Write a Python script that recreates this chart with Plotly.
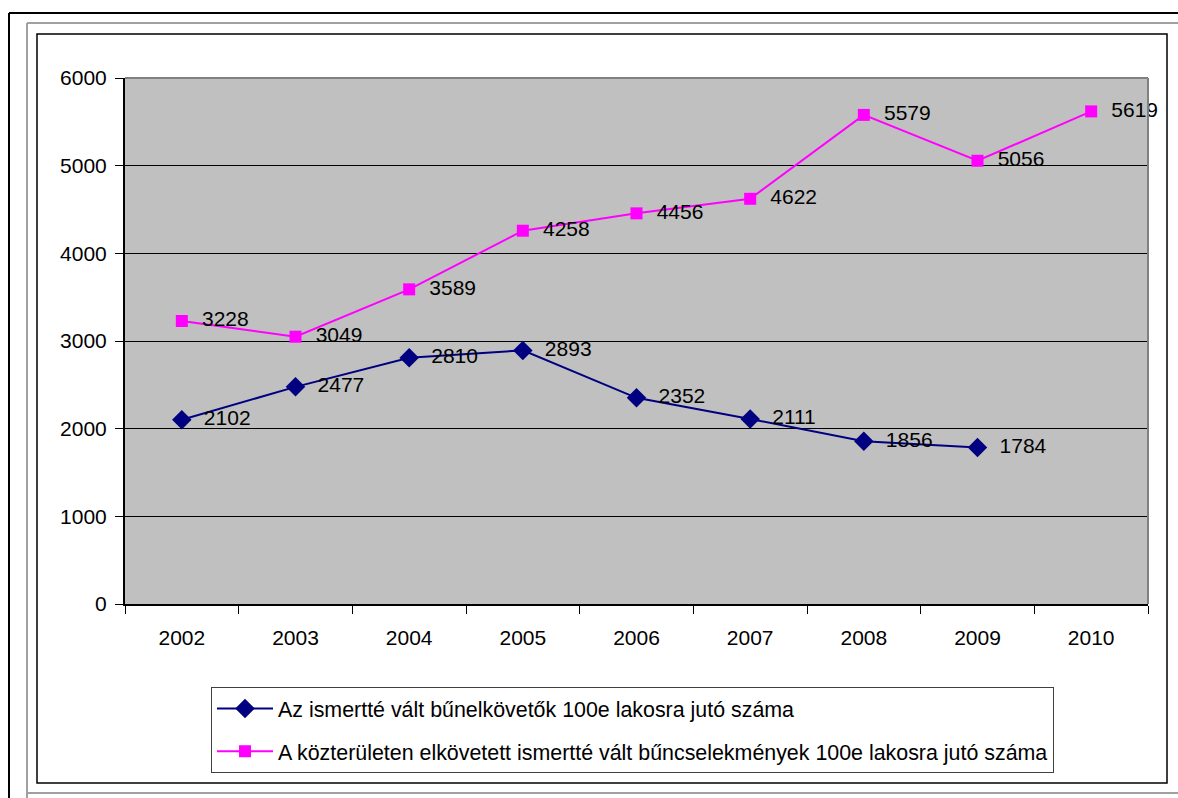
import plotly.graph_objects as go

years = ["2002", "2003", "2004", "2005", "2006", "2007", "2008", "2009", "2010"]
offenders = [2102, 2477, 2810, 2893, 2352, 2111, 1856, 1784, None]
public_crimes = [3228, 3049, 3589, 4258, 4456, 4622, 5579, 5056, 5619]
name1 = "Az ismertté vált bűnelkövetők 100e lakosra jutó száma"
name2 = "A közterületen elkövetett ismertté vált bűncselekmények 100e lakosra jutó száma"
y_ticks = [0, 1000, 2000, 3000, 4000, 5000, 6000]

OFF = 0  # page body margin (removed by post_script)
W, H = 1178 - OFF, 798 - OFF
# plot area in screen pixels
SL, SR, ST, SB = 125, 1148, 78, 604
L, R, T, B = SL - OFF, SR - OFF, ST - OFF, SB - OFF
FONT = "Liberation Sans, Arial, sans-serif"
NB = "\u00a0"


def px(x):
    return (x - OFF - L) / (R - L)


def py(y):
    return (B - (y - OFF)) / (B - T)


def fmt(v):
    return "" if v is None else NB * 2 + str(v)


fig = go.Figure()
fig.add_trace(go.Scatter(
    x=years, y=offenders, name=name1, mode="lines+markers+text",
    text=[fmt(v) for v in offenders], textposition="middle right",
    textfont=dict(size=21, color="black", family=FONT),
    line=dict(color="#000080", width=2),
    marker=dict(symbol="diamond", size=15, color="#000080"),
    legendgroup="a", cliponaxis=False,
))
fig.add_trace(go.Scatter(
    x=years, y=public_crimes, name=name2, mode="lines+markers+text",
    text=[fmt(v) for v in public_crimes], textposition="middle right",
    textfont=dict(size=21, color="black", family=FONT),
    line=dict(color="#FF00FF", width=2),
    marker=dict(symbol="square", size=12, color="#FF00FF"),
    legendgroup="b", cliponaxis=False,
))

shapes = []


def line(x0, y0, x1, y1, color, width=2):
    shapes.append(dict(type="line", xref="paper", yref="paper",
                       x0=px(x0), y0=py(y0), x1=px(x1), y1=py(y1),
                       line=dict(color=color, width=width), layer="above"))


# outer frame decorations (screen pixel coordinates)
line(9, 13, 1180, 13, "black", 2)
line(9, 13, 9, 800, "black", 2)
line(27, 23, 1180, 23, "#A0A0A0", 2)
line(27, 23, 27, 800, "#A0A0A0", 2)
line(27, 793, 1180, 793, "#A0A0A0", 2)
# chart area border
shapes.append(dict(type="rect", xref="paper", yref="paper",
                   x0=px(37), y0=py(34), x1=px(1167), y1=py(783),
                   line=dict(color="black", width=1.5), layer="below"))
# plot area top/right border
line(SL, ST, SR, ST, "#808080", 2)
line(SR, ST, SR, SB, "#808080", 2)

fig.update_layout(
    width=W, height=H,
    margin=dict(l=L, r=W - R, t=T, b=H - B),
    paper_bgcolor="white",
    plot_bgcolor="#C0C0C0",
    font=dict(family=FONT, size=21, color="black"),
    shapes=shapes,
    showlegend=True,
    legend=dict(
        x=px(211), y=py(687), xanchor="left", yanchor="top",
        bgcolor="white", bordercolor="#404040", borderwidth=1,
        font=dict(size=21.4, family=FONT, color="black"),
        traceorder="grouped", tracegroupgap=12,
        itemwidth=56,
    ),
    xaxis=dict(
        type="category", range=[-0.5, 8.5],
        showgrid=False, showline=True, linecolor="black", linewidth=2,
        ticks="outside", tickson="boundaries", ticklen=8, tickcolor="black",
        tickfont=dict(size=21), ticklabelstandoff=14,
    ),
    yaxis=dict(
        range=[0, 6000], tickvals=y_ticks,
        showgrid=True, gridcolor="black", gridwidth=1,
        showline=True, linecolor="black", linewidth=2,
        ticks="outside", ticklen=8, tickcolor="black",
        tickfont=dict(size=21), zeroline=False, ticklabelstandoff=4,
    ),
)

fig.write_html(
    "out.html",
    config={"displayModeBar": False},
    post_script=(
        "document.documentElement.style.overflow='hidden';"
        "document.body.style.overflow='hidden';"
        "document.body.style.margin='0';"
    ),
)
